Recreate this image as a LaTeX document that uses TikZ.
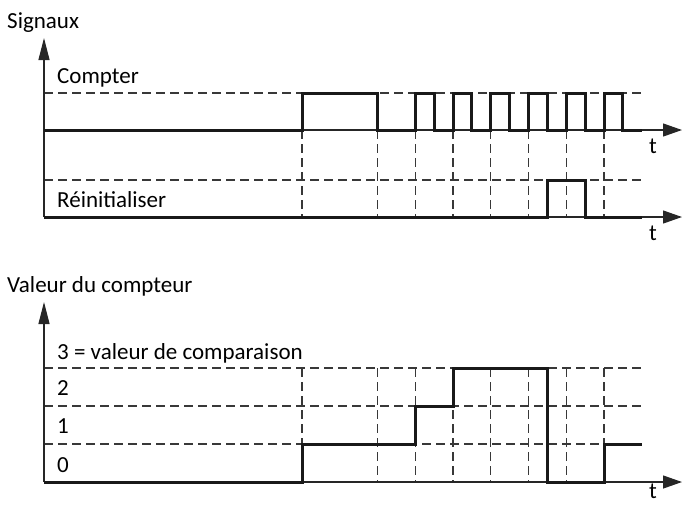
\documentclass[tikz,border=0pt]{standalone}
\usepackage{fontspec}
\setmainfont{Carlito}
\usetikzlibrary{arrows.meta}

\tikzset{
  axis/.style={line width=1.2pt, black!85, -{Triangle[length=19pt,width=13pt]}},
  yaxis/.style={line width=1.2pt, black!85, -{Triangle[length=22pt,width=11pt]}},
  sig/.style={line width=3pt, black!90, line join=miter},
  grid/.style={line width=1.2pt, black!78, dash pattern=on 9pt off 5pt},
  lbl/.style={anchor=base west, inner sep=0pt, font=\fontsize{23}{27}\selectfont},
}

\begin{document}
\begin{tikzpicture}[x=1pt, y=-1pt]
        \useasboundingbox (0,0) rectangle (682,504);

        % Signals: guide lines
        \draw[grid] (44,93) -- (642,93);
        \draw[grid] (44,180) -- (642,180);
        \foreach \x in {302,377.5,415.25,453,490.75,528.5,566.25,604}
          \draw[grid] (\x,130) -- (\x,217);
        % Signals: axes
        \draw[yaxis] (44,217) -- (44,38);
        \draw[axis] (44,130) -- (682,130);
        \draw[axis] (44,217) -- (682,217);
        \node[lbl] (signaux) at (7,28) {Signaux};
        \node[lbl] (compter) at (57,83) {Compter};
        \node[lbl] (reinit) at (57,207) {Réinitialiser};
        \node[lbl, anchor=base] (t1) at (653,153) {t};
        \node[lbl, anchor=base] (t2) at (653,240) {t};
        % Count input
        \draw[sig] (44,130) -- (302,130) -- (302,93) -- (377.5,93) -- (377.5,130)
          -- (415.25,130) -- (415.25,93) -- (434.1,93) -- (434.1,130)
          -- (453,130) -- (453,93) -- (471.9,93) -- (471.9,130)
          -- (490.75,130) -- (490.75,93) -- (509.6,93) -- (509.6,130)
          -- (528.5,130) -- (528.5,93) -- (547.4,93) -- (547.4,130)
          -- (566.25,130) -- (566.25,93) -- (585.1,93) -- (585.1,130)
          -- (604,130) -- (604,93) -- (622.9,93) -- (622.9,130)
          -- (641.75,130);
        % Reset input
        \draw[sig] (44,217) -- (547.4,217) -- (547.4,180) -- (585.1,180)
          -- (585.1,217) -- (641.75,217);

        % Counter value: guide lines
        \foreach \y in {368,406,444}
          \draw[grid] (44,\y) -- (642,\y);
        \foreach \x in {302,377.5,415.25,453,490.75,528.5,566.25,604}
          \draw[grid] (\x,368) -- (\x,482);
        % Counter value: axes
        \draw[yaxis] (44,482) -- (44,302);
        \draw[axis] (44,482) -- (682,482);
        \node[lbl] (valeur) at (7,292) {Valeur du compteur};
        \node[lbl] (cmp) at (57,359) {3 = valeur de comparaison};
        \node[lbl] (deux) at (57,395) {2};
        \node[lbl] (un) at (57,433) {1};
        \node[lbl] (zero) at (57,472) {0};
        \node[lbl, anchor=base] (t3) at (653,498) {t};
        % Counter value
        \draw[sig] (44,482) -- (302,482) -- (302,444) -- (415.25,444) -- (415.25,406)
          -- (453,406) -- (453,368) -- (547.4,368) -- (547.4,482) -- (604,482)
          -- (604,444) -- (641.75,444);
    \end{tikzpicture}
\end{document}
